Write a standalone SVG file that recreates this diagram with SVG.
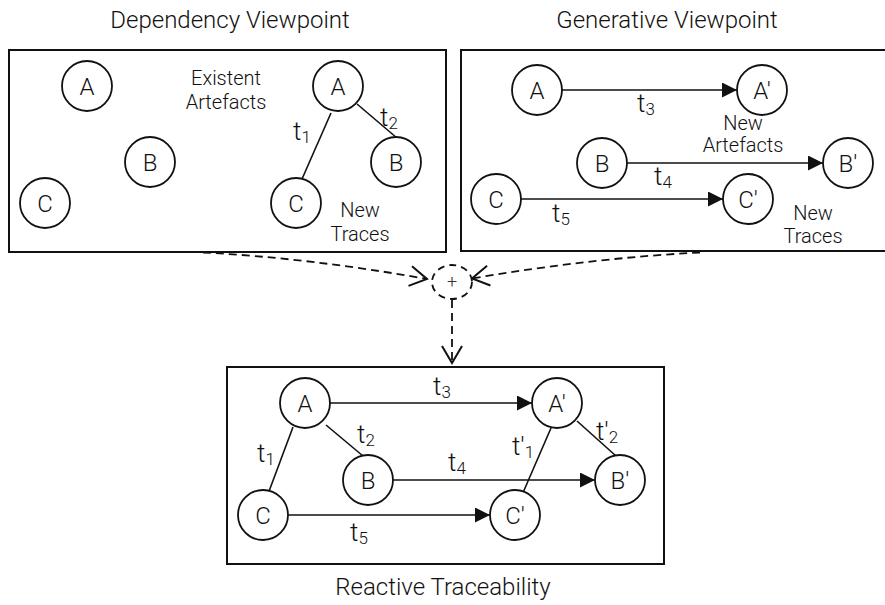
<svg xmlns="http://www.w3.org/2000/svg" width="885" height="605" viewBox="0 0 885 605">
  <style>
    text { font-family: "Roboto", "Liberation Sans", Arial, sans-serif; font-weight: 300; fill: #111; }
    .title { font-size: 24px; text-anchor: middle; }
    .note { font-size: 20px; text-anchor: middle; }
    .lbl { font-size: 24px; text-anchor: middle; }
    .t { font-size: 26px; }
    .sub { font-size: 17px; }
    .plus { font-size: 18px; text-anchor: middle; fill: #333; }
    .frame { fill: #fff; stroke: #111; stroke-width: 2; }
    .node circle { fill: #fff; stroke: #111; stroke-width: 1.8; }
    .edge { stroke: #111; stroke-width: 1.6; fill: none; }
    .arrow { marker-end: url(#solid); }
    .dash { stroke: #111; stroke-width: 1.8; fill: none; stroke-dasharray: 8 5; }
  </style>
  <defs>
    <marker id="solid" markerUnits="userSpaceOnUse" markerWidth="16" markerHeight="16" refX="15" refY="7.5" orient="auto">
      <path d="M0,0 L15,7.5 L0,15 Z" fill="#111"/>
    </marker>
    <marker id="open" markerUnits="userSpaceOnUse" markerWidth="22" markerHeight="24" refX="18" refY="11" orient="auto" overflow="visible">
      <path d="M1,1 L18,11 L1,21" fill="none" stroke="#111" stroke-width="2"/>
    </marker>
  </defs>

  <!-- panel titles -->
  <text class="title" x="230" y="28">Dependency Viewpoint</text>
  <text class="title" x="667" y="28">Generative Viewpoint</text>
  <text class="title" x="443" y="595">Reactive Traceability</text>

  <!-- panel frames -->
  <rect class="frame" x="9" y="50" width="437" height="202"/>
  <rect class="frame" x="461" y="50" width="430" height="201"/>
  <rect class="frame" x="227" y="367" width="437" height="197"/>

  <!-- connectors -->
  <g id="connectors">
    <!-- dependency viewpoint traces -->
    <line class="edge" x1="331" y1="113" x2="302" y2="179"/>
    <line class="edge" x1="357" y1="104" x2="397" y2="138"/>
    <!-- generative viewpoint traces -->
    <line class="edge arrow" x1="562" y1="90" x2="737" y2="90"/>
    <line class="edge arrow" x1="627" y1="163" x2="823" y2="163"/>
    <line class="edge arrow" x1="521" y1="199" x2="723" y2="199"/>
    <!-- merge into reactive traceability -->
    <path class="dash" d="M203,252.5 Q309,258 427,279" marker-end="url(#open)"/>
    <path class="dash" d="M700,252.5 Q592,258 472,278.5" marker-end="url(#open)"/>
    <line class="dash" x1="452" y1="300" x2="452" y2="363" marker-end="url(#open)"/>
    <!-- reactive traceability traces -->
    <line class="edge arrow" x1="330" y1="403" x2="532" y2="403"/>
    <line class="edge arrow" x1="393" y1="480" x2="595" y2="480"/>
    <line class="edge arrow" x1="288" y1="515" x2="490" y2="515"/>
    <line class="edge" x1="293" y1="427" x2="268" y2="494"/>
    <line class="edge" x1="326" y1="425" x2="363" y2="456"/>
    <line class="edge" x1="551" y1="428" x2="522" y2="495"/>
    <line class="edge" x1="577" y1="421" x2="616" y2="456"/>
  </g>

  <!-- merge operator -->
  <g id="merge">
    <ellipse cx="452" cy="282" rx="20" ry="17" fill="#fff" stroke="#111" stroke-width="1.8" stroke-dasharray="7 5"/>
    <text class="plus" x="452" y="288">+</text>
  </g>

  <!-- dependency viewpoint nodes -->
  <g id="dep-a1" class="node"><circle cx="87" cy="86" r="25"/><text class="lbl" x="87" y="94.5">A</text></g>
  <g id="dep-b1" class="node"><circle cx="150" cy="162" r="25"/><text class="lbl" x="150" y="170.5">B</text></g>
  <g id="dep-c1" class="node"><circle cx="45" cy="203" r="25"/><text class="lbl" x="45" y="211.5">C</text></g>
  <g id="dep-a2" class="node"><circle cx="338" cy="86" r="25"/><text class="lbl" x="338" y="94.5">A</text></g>
  <g id="dep-b2" class="node"><circle cx="396" cy="162" r="25"/><text class="lbl" x="396" y="170.5">B</text></g>
  <g id="dep-c2" class="node"><circle cx="296" cy="203" r="25"/><text class="lbl" x="296" y="211.5">C</text></g>
  <text class="note" x="226" y="85">Existent</text>
  <text class="note" x="226" y="109">Artefacts</text>
  <text class="note" x="360" y="217">New</text>
  <text class="note" x="360" y="241">Traces</text>
  <text class="t" x="293" y="140">t<tspan class="sub" dy="3">1</tspan></text>
  <text class="t" x="380" y="126">t<tspan class="sub" dy="3">2</tspan></text>

  <!-- generative viewpoint nodes -->
  <g id="gen-a" class="node"><circle cx="537" cy="90" r="25"/><text class="lbl" x="537" y="98.5">A</text></g>
  <g id="gen-a2" class="node"><circle cx="762" cy="90" r="25"/><text class="lbl" x="762" y="98.5">A′</text></g>
  <g id="gen-b" class="node"><circle cx="602" cy="163" r="25"/><text class="lbl" x="602" y="171.5">B</text></g>
  <g id="gen-b2" class="node"><circle cx="848" cy="163" r="25"/><text class="lbl" x="848" y="171.5">B′</text></g>
  <g id="gen-c" class="node"><circle cx="496" cy="199" r="25"/><text class="lbl" x="496" y="207.5">C</text></g>
  <g id="gen-c2" class="node"><circle cx="748" cy="199" r="25"/><text class="lbl" x="748" y="207.5">C′</text></g>
  <text class="note" x="743" y="130">New</text>
  <text class="note" x="743" y="152">Artefacts</text>
  <text class="note" x="813" y="220">New</text>
  <text class="note" x="813" y="243">Traces</text>
  <text class="t" x="637" y="112">t<tspan class="sub" dy="3">3</tspan></text>
  <text class="t" x="654" y="185">t<tspan class="sub" dy="3">4</tspan></text>
  <text class="t" x="552" y="222">t<tspan class="sub" dy="3">5</tspan></text>

  <!-- reactive traceability nodes -->
  <g id="rt-a" class="node"><circle cx="305" cy="403" r="25"/><text class="lbl" x="305" y="411.5">A</text></g>
  <g id="rt-a2" class="node"><circle cx="557" cy="403" r="25"/><text class="lbl" x="557" y="411.5">A′</text></g>
  <g id="rt-b" class="node"><circle cx="368" cy="480" r="25"/><text class="lbl" x="368" y="488.5">B</text></g>
  <g id="rt-b2" class="node"><circle cx="620" cy="480" r="25"/><text class="lbl" x="620" y="488.5">B′</text></g>
  <g id="rt-c" class="node"><circle cx="263" cy="515" r="25"/><text class="lbl" x="263" y="523.5">C</text></g>
  <g id="rt-c2" class="node"><circle cx="515" cy="515" r="25"/><text class="lbl" x="515" y="523.5">C′</text></g>
  <text class="t" x="433" y="395">t<tspan class="sub" dy="3">3</tspan></text>
  <text class="t" x="257" y="462">t<tspan class="sub" dy="3">1</tspan></text>
  <text class="t" x="357" y="443">t<tspan class="sub" dy="3">2</tspan></text>
  <text class="t" x="448" y="471">t<tspan class="sub" dy="3">4</tspan></text>
  <text class="t" x="350" y="541">t<tspan class="sub" dy="3">5</tspan></text>
  <text class="t" x="512" y="455">t′<tspan class="sub" dy="3">1</tspan></text>
  <text class="t" x="596" y="440">t′<tspan class="sub" dy="3">2</tspan></text>
</svg>
